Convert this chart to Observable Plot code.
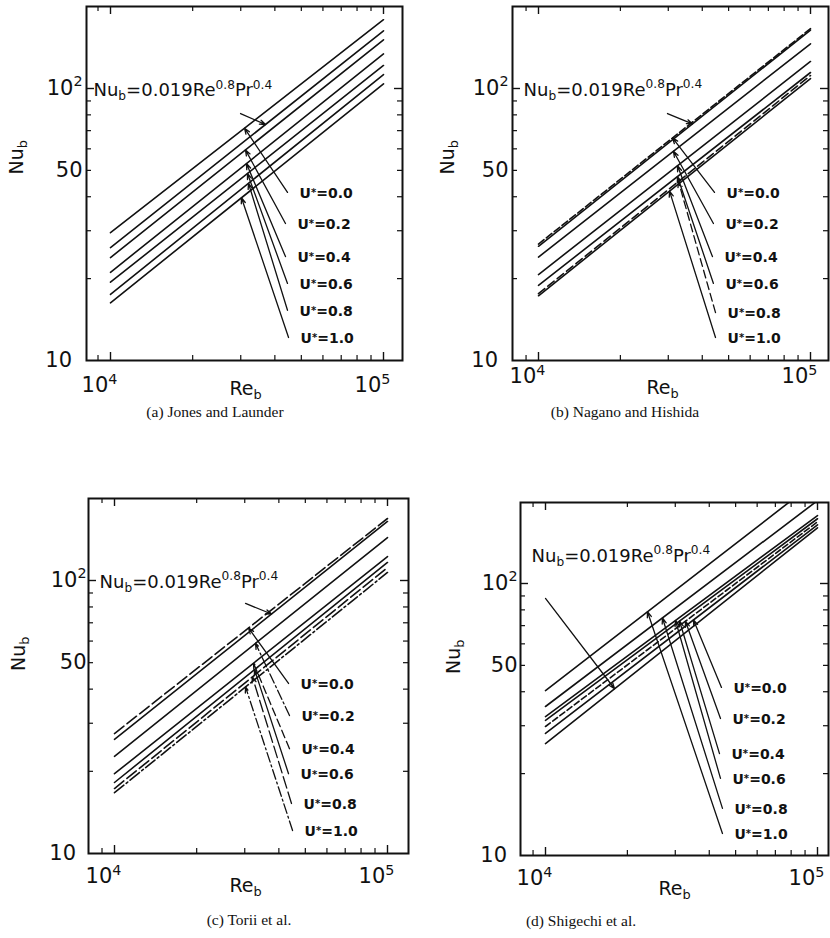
<!DOCTYPE html>
<html><head><meta charset="utf-8">
<script src="https://cdn.jsdelivr.net/npm/d3@7"></script>
<script src="https://cdn.jsdelivr.net/npm/@observablehq/plot@0.6"></script>
<style>
html,body{margin:0;padding:0;background:#fff;}
#fig{position:relative;width:830px;height:938px;overflow:hidden;background:#fff;}
.panel{position:absolute;}
.cap{position:absolute;width:300px;text-align:center;font-family:"Liberation Serif","Times New Roman",serif;font-size:15.5px;line-height:16px;color:#111;}
</style></head><body><div id="fig"></div>
<script>
// ---------------- data ----------------
const seriesKeys = ["DB", "0.0", "0.2", "0.4", "0.6", "0.8", "1.0"];   // Dittus-Boelter + U* values
const reEnds = [1e4, 1e5];
const uStar = ["0.0", "0.2", "0.4", "0.6", "0.8", "1.0"];
const uLabels = uStar.map(u => `U~{*}=${u}`);
const formulaLabel = "Nu_{b}=0.019Re^{0.8}Pr^{0.4}";
const xTitle = "Re_{b}";
const yTitle = "Nu_{b}";
const xTickValues = [1e4, 1e5];
const yTickValues = [10, 50, 100];
const xMajorTicks = [1e4, 1e5];
const xMinorTicks = [9e3, 2e4, 3e4, 4e4, 5e4, 6e4, 7e4, 8e4, 9e4];
const yMajorTicks = [100];
const yMinorTicks = [20, 30, 40, 50, 60, 70, 80, 90];
const captions = ["(a) Jones and Launder", "(b) Nagano and Hishida", "(c) Torii et al.", "(d) Shigechi et al."];

// (a) Jones and Launder : Nu_b at Re_b = 1e4 and 1e5, per seriesKeys
const aNu1e4 = [26.0, 29.5, 23.9, 21.1, 19.4, 17.5, 16.3];
const aNu1e5 = [163, 179, 151, 134, 121.5, 112.5, 104];
const aTailRe = [44500, 43750, 43750, 44500, 44500, 44900];
const aTailNu = [41.5, 31.9, 24.1, 19.2, 15.3, 12.15];
const aTipRe = [30960, 31220, 31480, 31750, 32020, 30180];
const aFormula = [8664, 98.3];
const aFormulaTail = [29950, 80.9];
const aFormulaTipRe = 36960;

// (b) Nagano and Hishida
const bNu1e4 = [26.3, 26.8, 24.0, 20.7, 18.9, 17.6, 17.3];
const bNu1e5 = [164, 166, 146, 125.7, 114.5, 111.6, 108.8];
const bTailRe = [44370, 43970, 43600, 43970, 44750, 44750];
const bTailNu = [41.5, 31.9, 24.1, 19.2, 15.0, 12.15];
const bTipRe = [31100, 31340, 32430, 32430, 32700, 30320];
const bFormula = [8808, 98.7];
const bFormulaTail = [29800, 80.9];
const bFormulaTipRe = 36800;

// (c) Torii et al.
const cNu1e4 = [26.2, 27.5, 22.7, 19.6, 18.2, 17.3, 16.7];
const cNu1e5 = [164.5, 168.7, 143.7, 122.4, 116.4, 111.6, 107];
const cTailRe = [43400, 43750, 43750, 43400, 44500, 44900];
const cTailNu = [41.95, 32.0, 24.2, 19.6, 15.25, 12.14];
const cTipRe = [30970, 32850, 32300, 32580, 31990, 30200];
const cFormula = [8812, 98.7];
const cFormulaTail = [30200, 82.4];
const cFormulaTipRe = 37600;

// (d) Shigechi et al.
const dNu1e4 = [25.8, 28.1, 29.8, 31.4, 32.4, 35.3, 40.4];
const dNu1e5 = [160.3, 164.3, 168.5, 173, 177.8, 201.7, 239.6];
const dTailRe = [44360, 43990, 43620, 43990, 44730, 44730];
const dTailNu = [41.5, 31.9, 23.7, 19.2, 14.9, 12.05];
const dTipRe = [35000, 32700, 31100, 30060, 26920, 23710];
const dFormula = [8883, 126.2];
const dFormulaTail = [10000, 88.1];
const dFormulaTipRe = 17940;

// ---------------- layout & style ----------------
const layouts = [
  {left: 0, top: 0, w: 415, h: 398, L: 86, R: 402, T: 6, B: 360, x4: 110, x5: 383, y10: 360, y100: 88,
   xPad: 17, yPad: 4, nuDx: -70, nuDy: -9, reDx: 1, reDy: 21, capX: 215, capBase: 417},
  {left: 415, top: 0, w: 415, h: 398, L: 512, R: 828, T: 6, B: 360, x4: 538, x5: 810, y10: 360, y100: 88,
   xPad: 8, yPad: 4, nuDx: -65, nuDy: -9, reDx: -8, reDy: 20, capX: 625, capBase: 417},
  {left: 0, top: 440, w: 415, h: 470, L: 88, R: 408, T: 498, B: 853, x4: 114, x5: 387, y10: 853, y100: 580,
   xPad: 15, yPad: 2, nuDx: -70, nuDy: -5, reDx: -3, reDy: 25, capX: 249, capBase: 925},
  {left: 415, top: 440, w: 415, h: 470, L: 520, R: 828, T: 502, B: 855, x4: 545, x5: 817, y10: 855, y100: 583,
   xPad: 15, yPad: 3, nuDx: -67, nuDy: -5, reDx: 0, reDy: 26, capX: 581, capBase: 926}
];
const styles = [
  {lineDash: {}, arrowDash: {}},
  {lineDash: {"0.0": "7,3", "0.8": "8,4"}, arrowDash: {"0.8": "8,4"}},
  {lineDash: {"0.0": "12,4", "0.8": "12,4", "1.0": "12,3,2,3"},
   arrowDash: {"0.2": "10,3,2,3", "0.4": "8,4", "0.8": "12,4", "1.0": "10,3,2,3"}},
  {lineDash: {"0.2": "6,3"}, arrowDash: {}}
];
const panelData = [
  {nu1e4: aNu1e4, nu1e5: aNu1e5, tailRe: aTailRe, tailNu: aTailNu, tipRe: aTipRe, formula: aFormula, fTail: aFormulaTail, fTipRe: aFormulaTipRe},
  {nu1e4: bNu1e4, nu1e5: bNu1e5, tailRe: bTailRe, tailNu: bTailNu, tipRe: bTipRe, formula: bFormula, fTail: bFormulaTail, fTipRe: bFormulaTipRe},
  {nu1e4: cNu1e4, nu1e5: cNu1e5, tailRe: cTailRe, tailNu: cTailNu, tipRe: cTipRe, formula: cFormula, fTail: cFormulaTail, fTipRe: cFormulaTipRe},
  {nu1e4: dNu1e4, nu1e5: dNu1e5, tailRe: dTailRe, tailNu: dTailNu, tipRe: dTipRe, formula: dFormula, fTail: dFormulaTail, fTipRe: dFormulaTipRe}
];

const INK = "#111";
const supFmt = d => `10^{${Math.round(Math.log10(d))}}`;
const yFmt = d => d === 10 ? "10\u2002" : d === 100 ? "10^{2}" : String(d);

// markup: ^{..} superscript, _{..} subscript, ~{..} small lightly raised
function richText(root) {
  root.querySelectorAll("text").forEach(t => {
    const s = t.textContent;
    if (!/[_^~]\{/.test(s)) return;
    const fs = parseFloat(getComputedStyle(t).fontSize) || 16;
    while (t.firstChild) t.removeChild(t.firstChild);
    let cur = 0, m;
    const re = /([_^~])\{([^}]*)\}|([^_^~]+)/g;
    while ((m = re.exec(s))) {
      const span = document.createElementNS("http://www.w3.org/2000/svg", "tspan");
      let target = 0;
      if (m[1]) {
        target = m[1] === "^" ? -0.42 * fs : m[1] === "_" ? 0.22 * fs : -0.12 * fs;
        span.setAttribute("font-size", ((m[1] === "~" ? 0.72 : 0.68) * fs).toFixed(1));
        span.textContent = m[2];
      } else span.textContent = m[3];
      if (target !== cur) span.setAttribute("dy", (target - cur).toFixed(2));
      cur = target;
      t.appendChild(span);
    }
  });
}

function buildPanel(D, P, S) {
  const frameW = P.R - P.L, frameH = P.B - P.T;
  const kx = P.x5 - P.x4, ky = P.y10 - P.y100;
  const xDomain = [10 ** (4 + (P.L - P.x4) / kx), 10 ** (4 + (P.R - P.x4) / kx)];
  const yDomain = [10 ** (1 + (P.y10 - P.B) / ky), 10 ** (1 + (P.y10 - P.T) / ky)];

  const rows = [];
  seriesKeys.forEach((s, i) => {
    rows.push({s, re: reEnds[0], nu: D.nu1e4[i]}, {s, re: reEnds[1], nu: D.nu1e5[i]});
  });
  const nuAt = (key, re) => {
    const i = seriesKeys.indexOf(key);
    const a = Math.log10(D.nu1e4[i]), b = Math.log10(D.nu1e5[i]);
    return 10 ** (a + (Math.log10(re) - 4) * (b - a));
  };
  const arrows = uStar.map((u, i) => ({
    u, label: uLabels[i], x1: D.tailRe[i], y1: D.tailNu[i], x2: D.tipRe[i], y2: nuAt(u, D.tipRe[i])
  }));

  const marks = [];
  const lineGroups = d3.group(rows, r => S.lineDash[r.s] || "none");
  for (const [dash, rs] of lineGroups) {
    marks.push(Plot.line(rs, {x: "re", y: "nu", z: "s", stroke: INK, strokeWidth: 1.6,
      strokeDasharray: dash === "none" ? undefined : dash, clip: true}));
  }
  const arrowGroups = d3.group(arrows, a => S.arrowDash[a.u] || "none");
  for (const [dash, as] of arrowGroups) {
    marks.push(Plot.arrow(as, {x1: "x1", y1: "y1", x2: "x2", y2: "y2", stroke: INK, strokeWidth: 1.3,
      headLength: 7, headAngle: 40, strokeDasharray: dash === "none" ? undefined : dash}));
  }
  marks.push(Plot.text(arrows, {x: "x1", y: "y1", text: "label", textAnchor: "start", dx: 12, dy: 1,
    fontSize: 14, fontWeight: "bold", fill: INK}));
  marks.push(Plot.text([{re: D.formula[0], nu: D.formula[1], t: formulaLabel}],
    {x: "re", y: "nu", text: "t", textAnchor: "start", fontSize: 18, fill: INK}));
  marks.push(Plot.arrow([{x1: D.fTail[0], y1: D.fTail[1], x2: D.fTipRe, y2: nuAt("DB", D.fTipRe)}],
    {x1: "x1", y1: "y1", x2: "x2", y2: "y2", stroke: INK, strokeWidth: 1.3, headLength: 7, headAngle: 40}));
  // inward ticks on all four sides
  marks.push(Plot.tickX(xMajorTicks, {x: d => d, insetTop: frameH - 8, stroke: INK, strokeWidth: 1.4}));
  marks.push(Plot.tickX(xMinorTicks, {x: d => d, insetTop: frameH - 5, stroke: INK, strokeWidth: 1.2}));
  marks.push(Plot.tickX(xMajorTicks, {x: d => d, insetBottom: frameH - 8, stroke: INK, strokeWidth: 1.4}));
  marks.push(Plot.tickX(xMinorTicks, {x: d => d, insetBottom: frameH - 5, stroke: INK, strokeWidth: 1.2}));
  marks.push(Plot.tickY(yMajorTicks, {y: d => d, insetRight: frameW - 8, stroke: INK, strokeWidth: 1.4}));
  marks.push(Plot.tickY(yMinorTicks, {y: d => d, insetRight: frameW - 5, stroke: INK, strokeWidth: 1.2}));
  marks.push(Plot.tickY(yMajorTicks, {y: d => d, insetLeft: frameW - 8, stroke: INK, strokeWidth: 1.4}));
  marks.push(Plot.tickY(yMinorTicks, {y: d => d, insetLeft: frameW - 5, stroke: INK, strokeWidth: 1.2}));
  marks.push(Plot.frame({stroke: INK, strokeWidth: 2}));
  marks.push(Plot.axisX({ticks: xTickValues, anchor: "bottom", tickSize: 0, tickPadding: P.xPad,
    tickFormat: supFmt, dx: -11, fontSize: 21, fill: INK}));
  marks.push(Plot.axisY({ticks: yTickValues, anchor: "left", tickSize: 0, tickPadding: P.yPad,
    tickFormat: yFmt, fontSize: 21, fill: INK}));
  marks.push(Plot.text([xTitle], {text: d => d, frameAnchor: "bottom", lineAnchor: "top",
    dx: P.reDx, dy: P.reDy, fontSize: 19, fill: INK}));
  marks.push(Plot.text([yTitle], {text: d => d, frameAnchor: "left", rotate: -90,
    dx: P.nuDx, dy: P.nuDy, fontSize: 19, fill: INK}));

  return Plot.plot({
    width: P.w, height: P.h,
    marginLeft: P.L - P.left, marginRight: P.left + P.w - P.R,
    marginTop: P.T - P.top, marginBottom: P.top + P.h - P.B,
    x: {type: "log", domain: xDomain},
    y: {type: "log", domain: yDomain},
    style: {fontFamily: "'DejaVu Sans', sans-serif", fontSize: "20px", background: "transparent", overflow: "visible", color: INK},
    marks
  });
}

const fig = document.getElementById("fig");
panelData.forEach((D, k) => {
  const P = layouts[k];
  const svg = buildPanel(D, P, styles[k]);
  svg.classList.add("panel");
  svg.style.left = P.left + "px";
  svg.style.top = P.top + "px";
  svg.style.position = "absolute";
  fig.appendChild(svg);
  richText(svg);
  const cap = document.createElement("div");
  cap.className = "cap";
  cap.textContent = captions[k];
  cap.style.left = (P.capX - 150) + "px";
  cap.style.top = (P.capBase - 13) + "px";
  fig.appendChild(cap);
});
</script></body></html>
